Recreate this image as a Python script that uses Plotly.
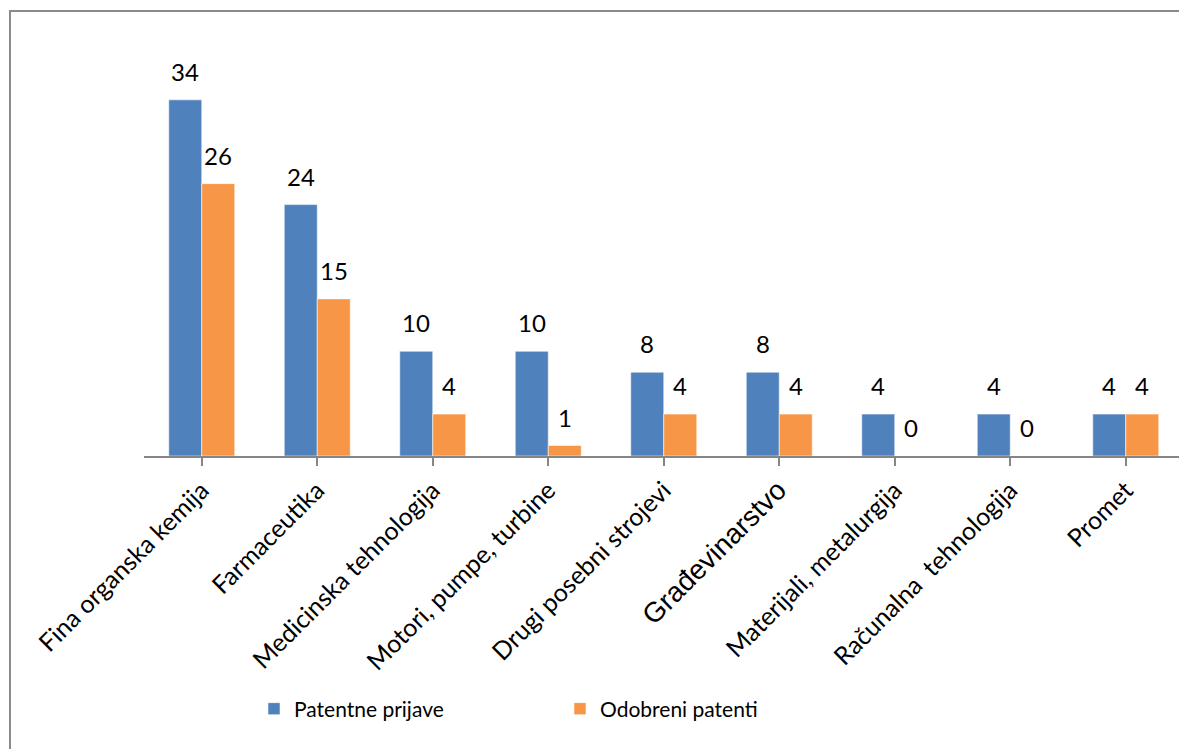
import plotly.graph_objects as go

categories = ["Fina organska kemija", "Farmaceutika", "Medicinska tehnologija",
              "Motori, pumpe, turbine", "Drugi posebni strojevi", "Građevinarstvo",
              "Materijali, metalurgija", "Računalna  tehnologija", "Promet"]
patentne_prijave = [34, 24, 10, 10, 8, 8, 4, 4, 4]
odobreni_patenti = [26, 15, 4, 1, 4, 4, 0, 0, 4]
series_names = ["Patentne prijave", "Odobreni patenti"]
colors = ["#4F81BD", "#F79646"]

tick_text = [
    "<span style='font-family:Arial;font-size:28px'>" + c + "</span>" if c == "Građevinarstvo" else c
    for c in categories
]

W, H = 1179, 749
L, R, T, B = 144, 0, 37, 293
FONT = "Lato"

fig = go.Figure()
for name, vals, col in zip(series_names, [patentne_prijave, odobreni_patenti], colors):
    fig.add_trace(go.Bar(
        x=list(range(len(categories))), y=vals, name=name,
        marker=dict(color=col, line=dict(color="rgba(255,255,255,0.55)", width=1)),
    ))

# data labels above the bars
annotations = []
for si, vals in enumerate([patentne_prijave, odobreni_patenti]):
    for i, v in enumerate(vals):
        annotations.append(dict(
            x=i, y=v, xref="x", yref="y", text=str(v), showarrow=False,
            xshift=(-16.5 if si == 0 else 16.5), yshift=12, yanchor="bottom",
            font=dict(family=FONT, size=24, color="black"),
        ))

plot_w = W - L - R
cat_px = 115.5
fig.update_layout(
    width=W, height=H,
    margin=dict(l=L, r=R, t=T, b=B, pad=0),
    paper_bgcolor="white", plot_bgcolor="white",
    barmode="group", bargap=0.4286, bargroupgap=0,
    font=dict(family=FONT, size=22, color="black"),
    xaxis=dict(
        range=[-0.5, -0.5 + plot_w / cat_px],
        tickmode="array", tickvals=list(range(len(categories))), ticktext=tick_text,
        tickangle=-45, tickson="boundaries", ticks="outside", ticklen=8,
        tickcolor="#868686", tickwidth=1.5,
        showline=True, linecolor="#868686", linewidth=1.5,
        showgrid=False, zeroline=False,
        tickfont=dict(family=FONT, size=25, color="black"),
        fixedrange=True,
    ),
    yaxis=dict(range=[0, 40], visible=False, showgrid=False, zeroline=False),
    showlegend=True,
    legend=dict(
        orientation="h", x=(254 - L) / plot_w, xanchor="left",
        y=-(709 - (H - B)) / (H - T - B), yanchor="middle",
        font=dict(family=FONT, size=21, color="black"),
        entrywidthmode="pixels", entrywidth=261,
        itemclick=False,
    ),
    annotations=annotations,
    shapes=[dict(
        type="rect", xref="paper", yref="paper",
        x0=(10 - L) / plot_w, x1=1.05,
        y0=-(H + 20 - (H - B)) / (H - T - B), y1=((H - B) - 11) / (H - T - B),
        line=dict(color="#8a8a8a", width=2), fillcolor="rgba(0,0,0,0)", layer="below",
    )],
)

fig.write_html("out.html")
